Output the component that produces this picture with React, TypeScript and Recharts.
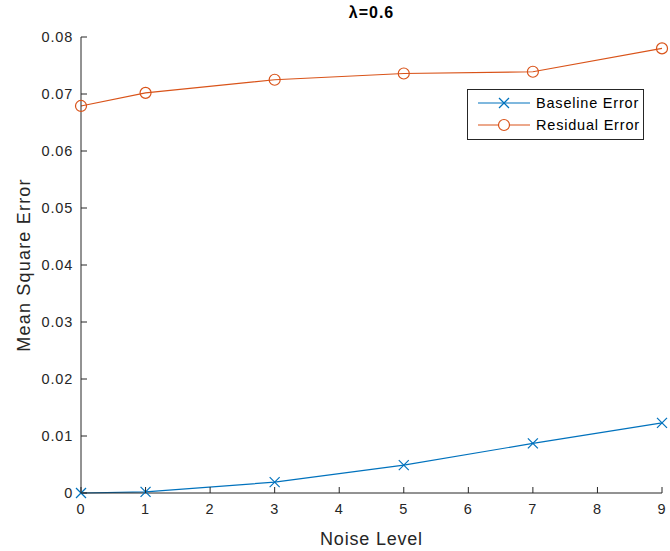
import React from 'react';
import { LineChart, Line, XAxis, YAxis, Legend } from 'recharts';

const noiseLevels = [0, 1, 3, 5, 7, 9];
const baselineError = [0.0, 0.0002, 0.0019, 0.0049, 0.0087, 0.0123];
const residualError = [0.0679, 0.0702, 0.0725, 0.0736, 0.0739, 0.078];
const xTicks = [0, 1, 2, 3, 4, 5, 6, 7, 8, 9];
const yTicks = [0, 0.01, 0.02, 0.03, 0.04, 0.05, 0.06, 0.07, 0.08];
const yTickLabels = ['0', '0.01', '0.02', '0.03', '0.04', '0.05', '0.06', '0.07', '0.08'];

const data = noiseLevels.map((x, i) => ({ x, baseline: baselineError[i], residual: residualError[i] }));

const BLUE = '#0072BD';
const ORANGE = '#D95319';
const AXIS = '#262626';
const FONT = 'Arial, "Liberation Sans", Helvetica, sans-serif';
const TICK_LEN = 6;

const BottomTick = (p: any) => (
  <g>
    <line x1={p.x} x2={p.x} y1={p.y} y2={p.y - TICK_LEN} stroke={AXIS} strokeWidth={1} />
    <text x={p.x} y={p.y + 21} textAnchor="middle" fontFamily={FONT} fontSize={14.5} letterSpacing={1} fill={AXIS}>
      {String(p.payload.value)}
    </text>
  </g>
);
const TopTick = (p: any) => (
  <line x1={p.x} x2={p.x} y1={p.y} y2={p.y + TICK_LEN} stroke={AXIS} strokeWidth={1} />
);
const LeftTick = (p: any) => {
  const idx = yTicks.findIndex((v) => Math.abs(v - p.payload.value) < 1e-9);
  return (
    <g>
      <line x1={p.x} x2={p.x + TICK_LEN} y1={p.y} y2={p.y} stroke={AXIS} strokeWidth={1} />
      <text x={p.x - 8} y={p.y + 5} textAnchor="end" fontFamily={FONT} fontSize={14.5} letterSpacing={0.8} fill={AXIS}>
        {idx >= 0 ? yTickLabels[idx] : String(p.payload.value)}
      </text>
    </g>
  );
};
const RightTick = (p: any) => (
  <line x1={p.x} x2={p.x - TICK_LEN} y1={p.y} y2={p.y} stroke={AXIS} strokeWidth={1} />
);

const CrossDot = (p: any) => {
  const { cx, cy } = p;
  if (cx == null || cy == null) return null;
  const s = 5;
  return (
    <g key={`c-${p.index}`}>
      <line x1={cx - s} y1={cy - s} x2={cx + s} y2={cy + s} stroke={BLUE} strokeWidth={1.2} />
      <line x1={cx - s} y1={cy + s} x2={cx + s} y2={cy - s} stroke={BLUE} strokeWidth={1.2} />
    </g>
  );
};
const CircleDot = (p: any) => {
  const { cx, cy } = p;
  if (cx == null || cy == null) return null;
  return <circle key={`o-${p.index}`} cx={cx} cy={cy} r={5.5} fill="none" stroke={ORANGE} strokeWidth={1.2} />;
};

const LegendBox = () => (
  <svg width={177} height={51} style={{ display: 'block' }}>
    <rect x={0.5} y={0.5} width={176} height={50} fill="#fff" stroke={AXIS} strokeWidth={1} />
    <line x1={11} x2={63} y1={14} y2={14} stroke={BLUE} strokeWidth={1.2} />
    <line x1={32} y1={9} x2={42} y2={19} stroke={BLUE} strokeWidth={1.2} />
    <line x1={32} y1={19} x2={42} y2={9} stroke={BLUE} strokeWidth={1.2} />
    <text x={69} y={19} fontFamily={FONT} fontSize={14.5} letterSpacing={0.8} fill="#000">Baseline Error</text>
    <line x1={11} x2={63} y1={36} y2={36} stroke={ORANGE} strokeWidth={1.2} />
    <circle cx={37} cy={36} r={5.5} fill="#fff" stroke={ORANGE} strokeWidth={1.2} />
    <text x={69} y={41} fontFamily={FONT} fontSize={14.5} letterSpacing={0.8} fill="#000">Residual Error</text>
  </svg>
);

export default function App() {
  return (
    <div style={{ position: 'absolute', left: 0, top: 0, width: 670, height: 551, background: '#fff' }}>
      <div
        style={{
          position: 'absolute', left: 81, width: 581, top: 4, textAlign: 'center',
          fontFamily: FONT, fontWeight: 'bold', fontSize: 16, letterSpacing: 1, color: '#000', zIndex: 2,
        }}
      >
        λ=0.6
      </div>
      <LineChart width={670} height={551} data={data} margin={{ top: 37, right: 8, bottom: 0, left: 0 }}>
        <XAxis
          dataKey="x" type="number" domain={[0, 9]} ticks={xTicks} height={58}
          tickSize={0} tickMargin={0} tickLine={false} tick={BottomTick} interval={0}
          axisLine={{ stroke: AXIS }}
          label={{ value: 'Noise Level', position: 'insideBottom', offset: 6, fill: AXIS, fontFamily: FONT, fontSize: 18, letterSpacing: 0.8 }}
        />
        <XAxis
          xAxisId="top" orientation="top" dataKey="x" type="number" domain={[0, 9]} ticks={xTicks} height={0}
          tickSize={0} tickMargin={0} tickLine={false} tick={TopTick} interval={0} axisLine={{ stroke: AXIS }}
        />
        <YAxis
          type="number" domain={[0, 0.08]} ticks={yTicks} width={81} interval={0}
          tickSize={0} tickMargin={0} tickLine={false} tick={LeftTick} axisLine={{ stroke: AXIS }}
          label={{ value: 'Mean Square Error', angle: -90, position: 'insideLeft', offset: 24, fill: AXIS, fontFamily: FONT, fontSize: 18, letterSpacing: 1.2, style: { textAnchor: 'middle' } }}
        />
        <YAxis
          yAxisId="right" orientation="right" type="number" domain={[0, 0.08]} ticks={yTicks} width={0} interval={0}
          tickSize={0} tickMargin={0} tickLine={false} tick={RightTick} axisLine={{ stroke: AXIS }}
        />
        <Legend
          layout="horizontal" verticalAlign="middle" align="center" content={LegendBox}
          wrapperStyle={{ position: 'absolute', left: 467, top: 89, width: 177, height: 51 }}
        />
        <Line dataKey="baseline" stroke={BLUE} strokeWidth={1.2} dot={CrossDot} activeDot={false} isAnimationActive={false} />
        <Line dataKey="residual" stroke={ORANGE} strokeWidth={1.2} dot={CircleDot} activeDot={false} isAnimationActive={false} />
      </LineChart>
    </div>
  );
}
